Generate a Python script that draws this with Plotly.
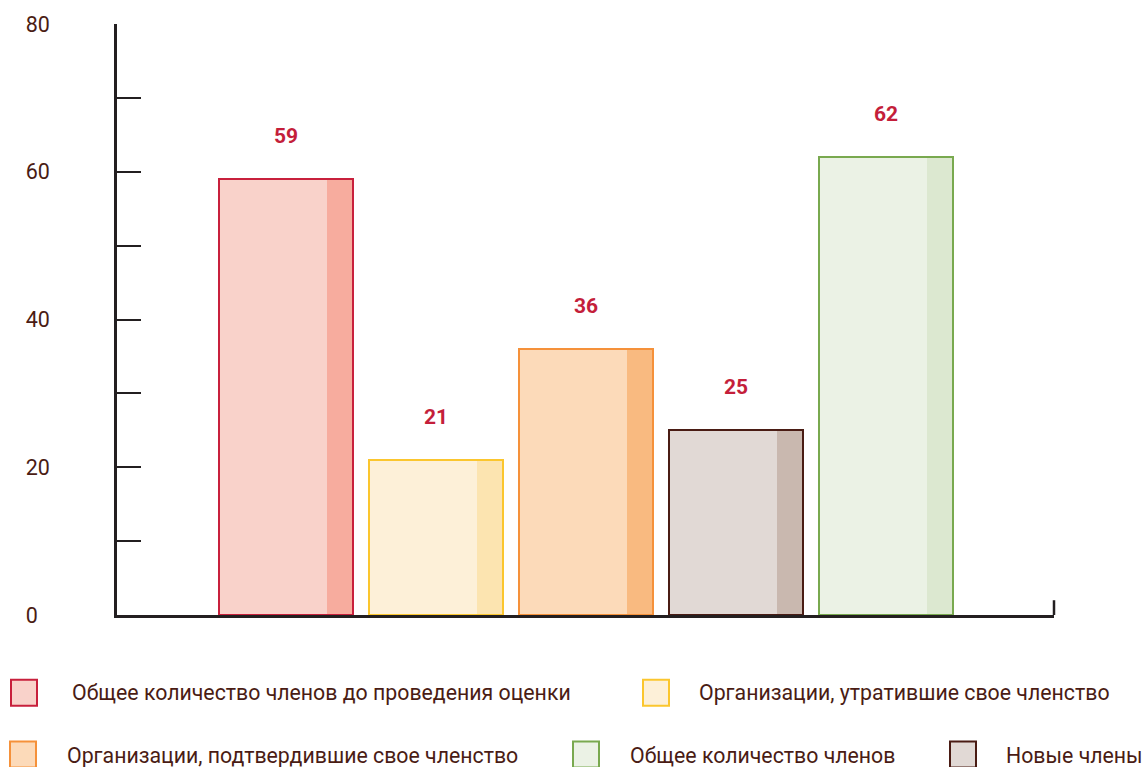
import plotly.graph_objects as go

# ---- data ----
categories = [
    "Общее количество членов до проведения оценки",
    "Организации, утратившие свое членство",
    "Организации, подтвердившие свое членство",
    "Новые члены",
    "Общее количество членов",
]
values = [59, 21, 36, 25, 62]
y_tick_vals = [0, 10, 20, 30, 40, 50, 60, 70, 80]
y_tick_text = ["0\u2007", "", "20", "", "40", "", "60", "", "80"]

# ---- styles ----
fill_colors = ["#F9D2CA", "#FDF0D8", "#FCDAB9", "#E1D9D5", "#EBF2E5"]
strip_colors = ["#F7AC9E", "#FCE4B0", "#F9BA80", "#C9B8AF", "#DCE8D0"]
line_colors = ["#C8203C", "#FBC62E", "#F5913A", "#4A1C14", "#79A94F"]
text_color = "#4A1C14"
label_color = "#C41E3A"
axis_color = "#231F20"
FONT = "Roboto"

W, H = 1146, 767
L, R, T, B = 117, 92, 22, 152
PW, PH = W - L - R, H - T - B

x = list(range(len(values)))
bar_w = 0.893
strip_w = 0.173

fig = go.Figure()
fig.add_trace(go.Bar(x=x, y=values, width=bar_w, marker=dict(color=fill_colors, line=dict(width=0)),
                     showlegend=False, hoverinfo="skip"))
fig.add_trace(go.Bar(x=x, y=values, width=strip_w, offset=bar_w / 2 - strip_w,
                     marker=dict(color=strip_colors, line=dict(width=0)),
                     showlegend=False, hoverinfo="skip"))
fig.add_trace(go.Bar(x=x, y=values, width=bar_w,
                     marker=dict(color="rgba(0,0,0,0)", line=dict(color=line_colors, width=2)),
                     showlegend=False, hovertext=categories, hoverinfo="text+y"))

# value labels
for xi, v in zip(x, values):
    fig.add_annotation(x=xi, y=v, text=f"<b>{v}</b>", showarrow=False, yshift=43,
                       yanchor="middle", font=dict(family=FONT, size=21, color=label_color))

# right end tick of x axis
fig.add_shape(type="line", xref="paper", yref="y", x0=1, x1=1, y0=0, y1=2,
              line=dict(color=axis_color, width=2.5))


def px_x(p):
    return (p - L) / PW


def px_y(p):
    return (H - B - p) / PH


# manual legend: (series index, swatch left px, swatch top px, text left px, text center y px)
legend_layout = [
    (0, 11, 680, 70, 693),
    (1, 643, 680, 697, 693),
    (2, 10, 742, 65, 756),
    (4, 573, 742, 628, 756),
    (3, 950, 742, 1004, 756),
]
SW = 26
for idx, sx, sy, tx, ty in legend_layout:
    fig.add_shape(type="rect", xref="paper", yref="paper",
                  x0=px_x(sx), x1=px_x(sx + SW), y0=px_y(sy + SW), y1=px_y(sy),
                  fillcolor=fill_colors[idx], line=dict(color=line_colors[idx], width=2))
    fig.add_annotation(xref="paper", yref="paper", x=px_x(tx), y=px_y(ty), text=categories[idx],
                       showarrow=False, xanchor="left", yanchor="middle",
                       font=dict(family=FONT, size=21.3, color=text_color))

fig.update_layout(
    width=W, height=H,
    margin=dict(l=L, r=R, t=T, b=B, pad=0),
    barmode="overlay",
    bargap=0,
    plot_bgcolor="white", paper_bgcolor="white",
    font=dict(family=FONT, color=text_color),
    showlegend=False,
    xaxis=dict(range=[-1.127, 5.12], showline=True, linecolor=axis_color, linewidth=2.5,
               showticklabels=False, ticks="", showgrid=False, zeroline=False, fixedrange=True),
    yaxis=dict(range=[0, 80], showline=True, linecolor=axis_color, linewidth=2.5,
               tickvals=y_tick_vals, ticktext=y_tick_text, ticks="inside", ticklen=24,
               tickwidth=2, tickcolor=axis_color, ticklabelstandoff=60,
               tickfont=dict(family=FONT, size=21.5, color=text_color),
               showgrid=False, zeroline=False, fixedrange=True),
)

fig.write_html("out.html", config={"displayModeBar": False},
               post_script="document.body.style.margin='0';document.body.style.overflow='hidden';")
